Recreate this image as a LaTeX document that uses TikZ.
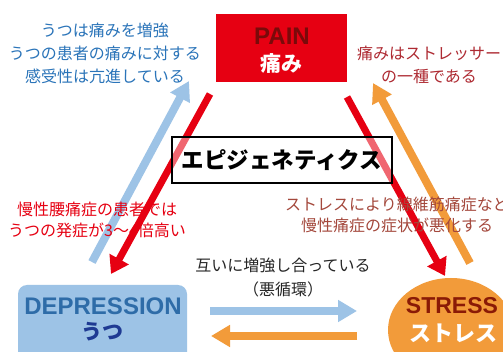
\documentclass[tikz,border=0pt]{standalone}
\usepackage{fontspec}
\setmainfont{Liberation Sans}
\newfontfamily\jp{Noto Sans CJK JP}
\usetikzlibrary{arrows.meta,shapes.geometric}
\definecolor{painred}{HTML}{E60012}
\definecolor{paintext}{HTML}{7A0A0A}
\definecolor{bluetext}{HTML}{2A74B9}
\definecolor{toprtext}{HTML}{AE2A32}
\definecolor{midrtext}{HTML}{A4483C}
\definecolor{lightblue}{HTML}{9DC3E6}
\definecolor{orangec}{HTML}{F29B3A}
\definecolor{deptext}{HTML}{2E6CA8}
\definecolor{deputsu}{HTML}{1F3A93}
\definecolor{stresstext}{HTML}{8A1A06}
\tikzset{
  jptext/.style={align=center, inner sep=0pt, font=\jp\fontsize{16}{23}\selectfont},
  redarrow/.style={draw=painred, line width=7pt, -{Triangle[length=17pt,width=21pt]}},
  bluearrow/.style={draw=lightblue, line width=8pt, -{Triangle[length=19pt,width=21pt]}},
  orangearrow/.style={draw=orangec, line width=8pt, -{Triangle[length=19pt,width=21pt]}},
  latinlabel/.style={inner sep=0pt, anchor=base, font=\bfseries\fontsize{24}{28}\selectfont},
  jpbold/.style={inner sep=0pt, font=\jp\bfseries\fontsize{21}{24}\selectfont},
}
\begin{document}
\begin{tikzpicture}[x=1pt,y=-1pt]
\useasboundingbox (0,0) rectangle (503,352);
\clip (0,0) rectangle (503,352);
\fill[white] (0,0) rectangle (503,352);

% main boxes
\node[draw=none, fill=painred, minimum width=131pt, minimum height=68pt, inner sep=0pt] (pain) at (281.5,48) {};
\node[latinlabel, text=paintext] (painlbl) at (282,45) {PAIN};
\node[jpbold, text=white] (painjp) at (281,63.5) {痛み};

\node[fill=lightblue, rounded corners=9pt, minimum width=169pt, minimum height=90pt, inner sep=0pt] (dep) at (102.5,330) {};
\node[latinlabel, text=deptext] (deplbl) at (103,315) {DEPRESSION};
\node[jpbold, text=deputsu] (depjp) at (102,332) {うつ};

\node[ellipse, fill=orangec, minimum width=126pt, minimum height=104pt, inner sep=0pt] (stress) at (451,330) {};
\node[latinlabel, text=stresstext, font=\bfseries\fontsize{23}{28}\selectfont] (strlbl) at (452,314) {STRESS};
\node[jpbold, text=white, font=\jp\bfseries\fontsize{22}{24}\selectfont] (strjp) at (453,333) {ストレス};

% diagonal arrows
\coordinate (bl1) at (92,262);  \coordinate (bl2) at (189,81);
\coordinate (rl1) at (210,94);  \coordinate (rl2) at (111,274);
\coordinate (rr1) at (347,97);  \coordinate (rr2) at (445,276);
\coordinate (or1) at (470,263); \coordinate (or2) at (373,83);
\draw[bluearrow] (bl1) -- (bl2);
\draw[orangearrow] (or1) -- (or2);
\draw[redarrow] (rl1) -- (rl2);
\draw[redarrow] (rr1) -- (rr2);

% horizontal arrows
\coordinate (hb1) at (210,311); \coordinate (hb2) at (357,311);
\coordinate (ho1) at (357,336); \coordinate (ho2) at (211,336);
\draw[bluearrow] (hb1) -- (hb2);
\draw[orangearrow] (ho1) -- (ho2);

% epigenetics box
\node[draw=black, line width=2.5pt, fill=white, fill opacity=0.4, text opacity=1,
      minimum width=220pt, minimum height=46pt, inner sep=0pt,
      font=\jp\bfseries\fontsize{22.5}{24}\selectfont] (epi) at (282,160) {エピジェネティクス};

% texts
\node[jptext, text=bluetext] (t1) at (105,53) {うつは痛みを増強\\うつの患者の痛みに対する\\感受性は亢進している};
\node[jptext, text=toprtext] (t2) at (429,64.5) {痛みはストレッサー\\の一種である};
\node[jptext, text=painred, font=\jp\fontsize{16}{21}\selectfont] (t3) at (97,220) {慢性腰痛症の患者では\\うつの発症が3～4倍高い};
\node[jptext, text=midrtext, font=\jp\fontsize{16}{21}\selectfont] (t4) at (397,215) {ストレスにより線維筋痛症など\\慢性痛症の症状が悪化する};
\node[jptext, text=black!85, font=\jp\fontsize{16}{24}\selectfont] (t5) at (283,277.5) {互いに増強し合っている\\（悪循環）};
\end{tikzpicture}
\end{document}
